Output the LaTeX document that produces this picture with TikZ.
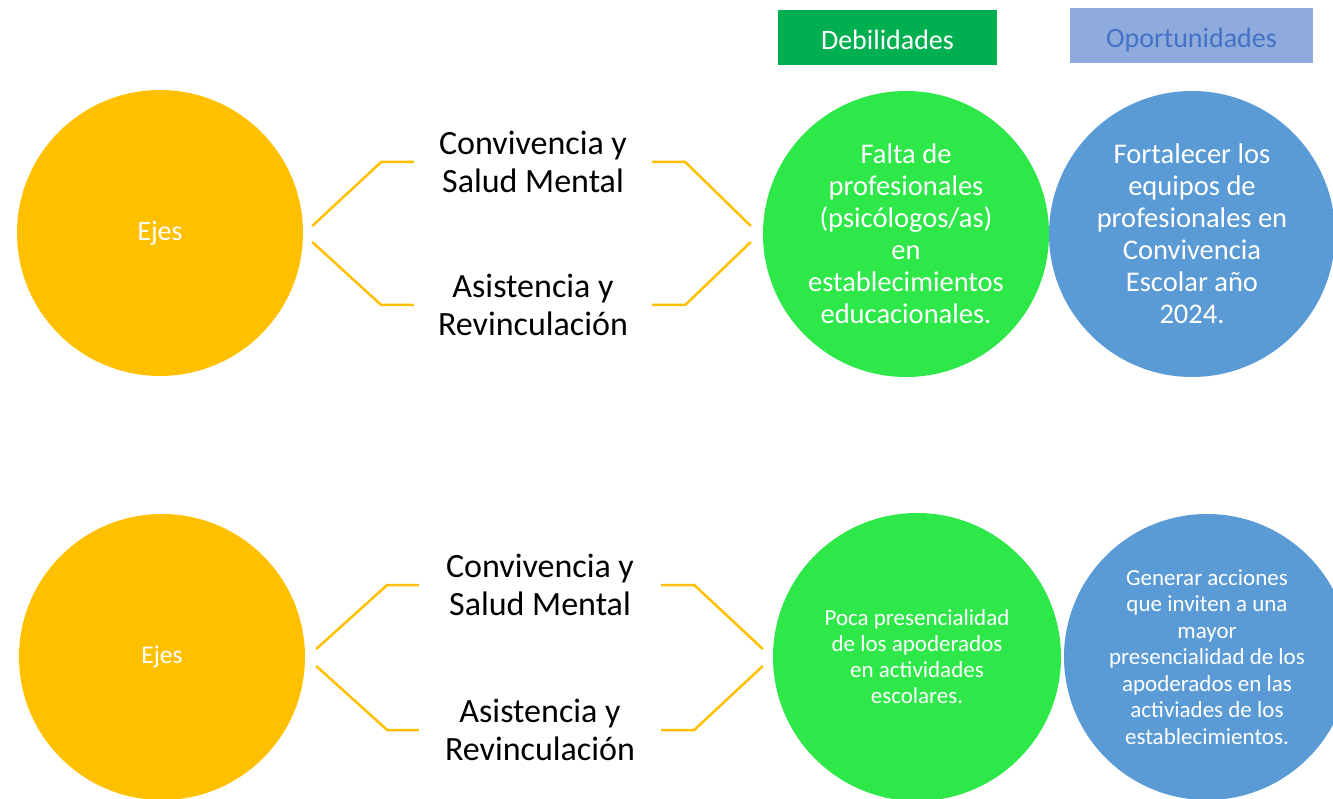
\documentclass[tikz,border=0pt]{standalone}
\usepackage{fontspec}
\setmainfont{Carlito}
\usetikzlibrary{calc}

\definecolor{ejesyellow}{HTML}{FFC000}
\definecolor{debgreen}{HTML}{00B050}
\definecolor{circgreen}{HTML}{2EE84A}
\definecolor{oporblue}{HTML}{5B9BD5}
\definecolor{headblue}{HTML}{8FAADC}
\definecolor{headtext}{HTML}{4472C4}

\tikzset{
  bubble/.style={circle,inner sep=0,minimum size=286,text=white,align=center},
  eje/.style={bubble,fill=ejesyellow},
  deb/.style={bubble,fill=circgreen},
  opor/.style={bubble,fill=oporblue},
  eje label/.style={align=center,inner sep=0,font=\fontsize{34}{38}\selectfont},
  header/.style={inner sep=0,minimum height=55,text height=24,text depth=0,
    font=\fontsize{28}{32}\selectfont},
  link/.style={draw=ejesyellow,line width=2.5}
}

\begin{document}
\begin{tikzpicture}[x=1pt,y=-1pt]
  \useasboundingbox (0,0) rectangle (1333,799);
  \clip (0,0) rectangle (1333,799);

  % headers
  \node[header,fill=debgreen,text=white,minimum width=219] (debH) at (887.5,37.5) {Debilidades};
  \node[header,fill=headblue,text=headtext,minimum width=243] (oporH) at (1191.5,35.5) {Oportunidades};

  % first block
  \node[eje,font=\fontsize{28}{32}\selectfont] (ejesA) at (160,233) {Ejes};
  \node[eje label,minimum width=238] (convA) at (533,162) {Convivencia y\\Salud Mental};
  \node[eje label,minimum width=238] (asisA) at (533,305) {Asistencia y\\Revinculación};
  \node[deb,font=\fontsize{28.5}{32}\selectfont] (debA) at (906,234)
    {Falta de\\profesionales\\(psicólogos/as)\\en\\establecimientos\\educacionales.};
  \node[opor,font=\fontsize{28.5}{32}\selectfont] (oporA) at (1192,234)
    {Fortalecer los\\equipos de\\profesionales en\\Convivencia\\Escolar año\\2024.};

  \draw[link] ([shift={(9,-7)}]ejesA.east) -- ++(69,-64) -- (convA.west);
  \draw[link] ([shift={(9,9)}]ejesA.east) -- ++(69,63) -- (asisA.west);
  \draw[link] (convA.east) -- ++(33,0) -- ([shift={(-12,-8)}]debA.west);
  \draw[link] (asisA.east) -- ++(33,0) -- ([shift={(-12,8)}]debA.west);

  % second block
  \node[eje,font=\fontsize{25.5}{30}\selectfont] (ejesB) at (162,657) {Ejes};
  \node[eje label,minimum width=242] (convB) at (540,585) {Convivencia y\\Salud Mental};
  \node[eje label,minimum width=242] (asisB) at (540,730) {Asistencia y\\Revinculación};
  \node[deb,minimum size=288,font=\fontsize{23}{26}\selectfont] (debB) at (917,657)
    {Poca presencialidad\\de los apoderados\\en actividades\\escolares.};
  \node[opor,font=\fontsize{23}{26.5}\selectfont] (oporB) at (1207,657)
    {Generar acciones\\que inviten a una\\mayor\\presencialidad de los\\apoderados en las\\activiades de los\\establecimientos.};

  \draw[link] ([shift={(11,-8)}]ejesB.east) -- ++(71,-64) -- (convB.west);
  \draw[link] ([shift={(11,9)}]ejesB.east) -- ++(71,64) -- (asisB.west);
  \draw[link] (convB.east) -- ++(33,0) -- ([shift={(-10,-8)}]debB.west);
  \draw[link] (asisB.east) -- ++(33,0) -- ([shift={(-10,9)}]debB.west);
\end{tikzpicture}
\end{document}
